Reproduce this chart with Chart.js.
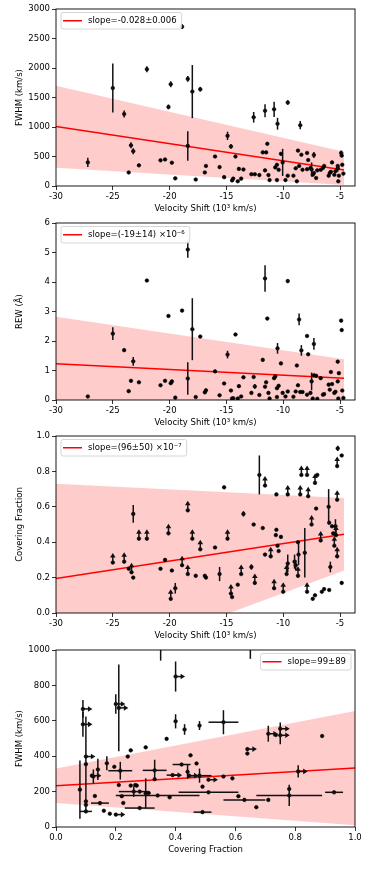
<!DOCTYPE html>
<html>
<head>
<meta charset="utf-8">
<script src="https://cdn.jsdelivr.net/npm/chart.js@4.4.1/dist/chart.umd.min.js"></script>
<style>
  body { margin: 0; background: #fff; }
  .panel { position: absolute; left: 0; width: 374px; height: 214px; }
</style>
</head>
<body>
<div class="panel" style="top:0px"><canvas id="c1" width="374" height="214"></canvas></div>
<div class="panel" style="top:214px"><canvas id="c2" width="374" height="214"></canvas></div>
<div class="panel" style="top:427px"><canvas id="c3" width="374" height="214"></canvas></div>
<div class="panel" style="top:641px"><canvas id="c4" width="374" height="214"></canvas></div>
<script>
// velocity shift (10^3 km/s), shared by the FWHM and REW panels
const velShift = [-27.2,-25.0,-24.0,-23.6,-23.4,-23.2,-22.7,-22.0,-20.8,-20.4,
  -20.1,-19.9,-19.8,-19.5,-18.9,-18.4,-18.4,-18.0,-17.7,-17.3,
  -16.9,-16.8,-16.0,-15.6,-15.2,-14.9,-14.6,-14.5,-14.4,-14.2,
  -14.0,-13.9,-13.7,-13.5,-12.8,-12.6,-12.5,-12.1,-11.8,-11.6,
  -11.5,-11.4,-11.6,-11.3,-11.2,-10.8,-10.7,-10.55,-10.5,-10.4,
  -10.55,-10.2,-10.05,-9.8,-9.6,-9.6,-9.1,-8.9,-8.8,-8.7,
  -8.6,-8.5,-8.4,-8.3,-7.9,-7.9,-7.8,-7.6,-7.5,-7.4,
  -7.3,-7.3,-7.1,-7.0,-6.7,-6.5,-6.4,-6.0,-5.9,-5.8,
  -5.7,-5.5,-5.4,-5.2,-5.2,-5.1,-4.9,-4.85,-4.8,-4.7,
  -5.15];
const fwhm = [400,1660,1220,230,690,590,350,1980,435,450,
  1340,1725,395,130,2700,1815,680,1600,110,1640,
  230,340,500,320,150,850,670,95,125,500,
  80,290,125,280,200,1165,200,185,570,1275,
  570,715,265,185,100,1300,315,360,1055,275,
  100,545,400,100,1415,175,175,300,80,600,
  340,1030,530,275,560,285,440,305,280,190,
  220,525,135,265,275,305,340,175,220,240,
  400,190,250,340,300,175,560,515,360,210,
  80];
const fwhmErr = [80,415,60,0,50,50,0,50,0,0,
  40,50,0,0,40,50,250,450,0,40,
  0,0,0,0,0,70,40,0,0,0,
  0,0,0,0,0,90,0,0,0,110,
  0,0,0,0,0,130,0,0,100,0,
  0,0,230,0,40,0,0,0,0,0,
  0,70,0,0,0,0,0,0,120,0,
  0,50,0,0,0,0,0,0,0,0,
  0,0,0,0,60,0,40,0,0,0,
  0];
const rew = [0.12,2.25,1.69,0.30,0.65,1.31,0.60,4.05,0.50,0.65,
  2.85,0.57,0.63,0.08,3.03,5.10,0.73,2.40,0.10,2.15,
  0.26,0.33,0.97,0.16,0.56,1.54,0.32,0.05,0.06,2.22,
  0.05,0.47,0.12,0.77,0.24,0.78,0.46,0.17,1.36,4.12,
  0.60,2.76,0.45,0.24,0.05,0.74,0.80,0.40,1.75,0.48,
  0.10,1.24,0.24,0.12,4.03,0.29,0.11,0.29,1.17,0.50,
  2.73,0.27,1.68,0.27,2.17,0.18,1.55,0.24,0.63,0.05,
  0.84,1.90,0.82,0.04,0.74,0.18,0.20,0.52,0.35,0.95,
  0.54,0.24,0.28,1.30,0.63,0.91,2.69,2.37,0.32,0.07,
  0.05];
const rewErr = [0,0.22,0,0,0,0.15,0,0,0,0,
  0,0,0,0,0,0.28,0.55,1.05,0,0,
  0,0,0,0,0,0.13,0,0,0,0,
  0,0,0,0,0,0,0.08,0,0,0.45,
  0,0,0,0,0,0,0,0,0.18,0,
  0,0,0,0,0.06,0,0,0,0,0,
  0.2,0,0.18,0,0,0,0,0,0.3,0,
  0,0.2,0,0,0,0,0,0,0,0,
  0,0,0,0,0,0,0,0,0,0,
  0];

// covering fraction vs velocity shift (lower = lower limit, drawn as up arrow)
const cfVel = [-25.0,-24.0,-23.6,-23.35,-23.2,-23.2,-22.7,-22.0,-20.8,-20.4,
  -20.1,-19.9,-19.8,-19.5,-18.9,-18.4,-18.4,-18.0,-17.7,-17.3,
  -16.9,-16.8,-16.0,-15.6,-15.2,-14.9,-14.6,-14.5,-14.0,-13.7,
  -13.5,-12.8,-12.6,-12.5,-12.1,-11.8,-11.6,-11.6,-11.1,-10.8,
  -10.6,-10.6,-10.65,-10.5,-10.4,-10.2,-10.0,-9.6,-9.6,-9.7,
  -9.0,-8.9,-8.7,-8.65,-8.7,-8.5,-8.4,-8.1,-7.9,-7.9,
  -7.8,-7.5,-7.2,-7.1,-7.4,-7.2,-7.0,-6.7,-6.6,-6.4,
  -6.0,-5.95,-5.85,-5.95,-5.7,-5.6,-5.5,-5.4,-5.35,-5.25,
  -5.25,-5.25,-5.2,-4.85,-4.85];
const cfVal = [0.285,0.29,0.25,0.23,0.20,0.56,0.42,0.42,0.25,0.30,
  0.45,0.08,0.24,0.14,0.27,0.58,0.22,0.42,0.21,0.36,
  0.21,0.20,0.37,0.22,0.71,0.42,0.11,0.09,0.16,0.22,
  0.56,0.26,0.50,0.17,0.78,0.48,0.72,0.33,0.32,0.14,
  0.67,0.47,0.44,0.38,0.35,0.43,0.12,0.67,0.28,0.22,
  0.29,0.27,0.40,0.33,0.21,0.67,0.78,0.34,0.78,0.12,
  0.66,0.50,0.735,0.59,0.08,0.10,0.78,0.41,0.12,0.135,
  0.60,0.51,0.26,0.13,0.49,0.45,0.38,0.49,0.44,0.64,
  0.32,0.83,0.93,0.89,0.17];
const cfErr = [0,0,0,0,0,0.05,0,0,0,0,
  0,0,0,0.03,0,0,0,0,0,0,
  0,0,0,0.04,0,0,0,0,0,0,
  0.015,0.015,0,0,0.11,0,0,0,0,0,
  0,0,0,0,0,0,0,0,0.05,0,
  0.04,0.03,0,0.06,0,0,0,0.14,0,0,
  0,0,0,0,0,0,0,0,0,0,
  0.1,0,0.03,0,0,0,0,0.04,0,0,
  0,0,0.015,0,0];
const cfLower = [1,1,0,1,0,0,1,1,0,0,
  1,1,0,0,1,1,1,1,0,1,
  0,0,0,0,0,1,1,0,0,1,
  0,0,0,1,0,0,1,0,1,1,
  0,0,0,0,0,0,1,1,0,1,
  0,0,0,0,1,1,1,0,1,1,
  1,1,1,0,0,0,0,1,0,0,
  0,0,0,0,0,0,1,0,1,1,
  1,1,0,0,0];

// FWHM vs covering fraction (right = lower limit in covering fraction)
const cfX = [0.08,0.09,0.09,0.10,0.10,0.10,0.10,0.10,0.12,0.125,
  0.13,0.14,0.147,0.16,0.17,0.18,0.195,0.20,0.20,0.21,
  0.21,0.215,0.22,0.225,0.24,0.25,0.25,0.26,0.265,0.27,
  0.28,0.28,0.30,0.30,0.31,0.33,0.33,0.34,0.35,0.37,
  0.38,0.39,0.40,0.40,0.42,0.43,0.44,0.445,0.45,0.47,
  0.48,0.48,0.49,0.49,0.51,0.51,0.56,0.56,0.59,0.61,
  0.63,0.64,0.64,0.65,0.67,0.71,0.71,0.735,0.75,0.75,
  0.78,0.78,0.81,0.89,0.93];
const cfXErr = [0,0,0,0,0,0.02,0,0,0,0,
  0,0,0.03,0,0,0,0,0,0,0,
  0,0.04,0,0,0,0,0,0.05,0,0,
  0,0.05,0,0,0,0.04,0,0.14,0,0,
  0,0.02,0,0,0.03,0,0,0,0,0,
  0,0.04,0,0.03,0.1,0,0.05,0,0,0,
  0.07,0,0,0,0,0,0,0,0,0,
  0.11,0,0,0,0.03];
const cfFwhm = [211,667,580,398,355,88,145,125,290,285,
  175,325,135,92,360,75,340,695,70,237,
  673,318,174,136,398,433,234,200,237,234,
  200,107,450,190,192,320,270,178,1300,498,
  168,293,597,850,353,551,312,290,405,359,
  573,290,228,84,196,267,592,285,275,174,
  153,440,415,1200,112,153,527,520,555,518,
  178,215,314,514,196];
const cfFwhmErr = [165,50,70,0,270,0,0,0,0,40,
  0,60,0,0,40,0,0,55,0,0,
  245,50,0,0,0,0,0,30,0,0,
  0,0,0,85,0,60,0,0,360,0,
  0,0,40,85,0,30,40,0,0,0,
  25,40,0,0,0,0,68,0,0,0,
  0,0,0,250,0,0,45,0,35,50,
  60,0,35,0,0];
const cfRight = [0,1,1,1,0,0,0,0,1,0,
  0,0,0,0,0,0,0,1,1,0,
  1,0,0,0,0,0,0,0,0,0,
  0,0,0,0,0,0,0,0,0,0,
  0,1,0,1,0,0,0,1,0,0,
  0,0,0,0,0,1,0,0,0,0,
  0,1,0,0,0,0,1,0,1,1,
  0,0,1,0,0];

// linear fits and their 1-sigma bands, at the ends of the fitted range
const velFitX = [-30, -4.65];
const fwhmFit = [1010, 270], fwhmHi = [1700, 580], fwhmLo = [310, 15];
const rewFit = [1.23, 0.74], rewHi = [2.82, 1.38], rewLo = [-0.36, 0.0];
const cfFit = [0.195, 0.445], cfHi = [0.73, 0.65], cfLo = [-0.364, 0.24];
const cfFitX = [0, 1];
const cfFwhmFit = [233, 333], cfFwhmHi = [330, 655], cfFwhmLo = [135, 10];

Chart.defaults.font.family = '"DejaVu Sans", sans-serif';
Chart.defaults.font.size = 8.5;
Chart.defaults.color = '#000';

const pts = (xs, ys) => xs.map((x, i) => ({ x: x, y: ys[i] }));

// error bars and limit arrows, drawn from each point's value through the scales
const errorBarPlugin = {
  id: 'errorBars',
  afterDatasetsDraw(chart) {
    const { ctx, chartArea: a, scales: { x, y } } = chart;
    ctx.save();
    ctx.beginPath();
    ctx.rect(a.left, a.top, a.right - a.left, a.bottom - a.top);
    ctx.clip();
    ctx.strokeStyle = '#111';
    ctx.fillStyle = '#111';
    ctx.lineWidth = 1.5;
    chart.data.datasets.forEach(ds => {
      if (!ds.errorBars) return;
      ds.data.forEach(d => {
        const px = x.getPixelForValue(d.x), py = y.getPixelForValue(d.y);
        if (d.ye) {
          ctx.beginPath();
          ctx.moveTo(px, y.getPixelForValue(d.y - d.ye));
          ctx.lineTo(px, y.getPixelForValue(d.y + d.ye));
          ctx.stroke();
        }
        if (d.xe) {
          ctx.beginPath();
          ctx.moveTo(x.getPixelForValue(d.x - d.xe), py);
          ctx.lineTo(x.getPixelForValue(d.x + d.xe), py);
          ctx.stroke();
        }
        if (d.lim && ds.limDir === 'up') {
          ctx.beginPath();
          ctx.moveTo(px, py); ctx.lineTo(px, py - 7);
          ctx.stroke();
          ctx.beginPath();
          ctx.moveTo(px - 2.8, py - 5); ctx.lineTo(px, py - 9.5); ctx.lineTo(px + 2.8, py - 5);
          ctx.closePath(); ctx.fill();
        }
        if (d.lim && ds.limDir === 'right') {
          ctx.beginPath();
          ctx.moveTo(px, py); ctx.lineTo(px + 7, py);
          ctx.stroke();
          ctx.beginPath();
          ctx.moveTo(px + 5, py - 2.8); ctx.lineTo(px + 9.5, py); ctx.lineTo(px + 5, py + 2.8);
          ctx.closePath(); ctx.fill();
        }
      });
    });
    ctx.restore();
  }
};

// axes box and the little legend for the fit line
const frameLegendPlugin = {
  id: 'frameLegend',
  afterDraw(chart, args, opts) {
    const { ctx, chartArea: a } = chart;
    ctx.save();
    ctx.strokeStyle = '#000';
    ctx.lineWidth = 0.9;
    ctx.strokeRect(a.left, a.top, a.right - a.left, a.bottom - a.top);

    ctx.font = '8.5px "DejaVu Sans", sans-serif';
    const w = 27 + ctx.measureText(opts.text).width + 5;
    const h = 16.5;
    const bx = opts.align === 'right' ? a.right - 4 - w : a.left + 5;
    const by = a.top + 3.5;
    ctx.fillStyle = 'rgba(255,255,255,0.85)';
    ctx.strokeStyle = '#cccccc';
    ctx.lineWidth = 0.8;
    ctx.beginPath();
    ctx.roundRect(bx, by, w, h, 2);
    ctx.fill();
    ctx.stroke();
    ctx.strokeStyle = 'red';
    ctx.lineWidth = 1.5;
    ctx.beginPath();
    ctx.moveTo(bx + 2, by + h / 2);
    ctx.lineTo(bx + 21, by + h / 2);
    ctx.stroke();
    ctx.fillStyle = '#000';
    ctx.textBaseline = 'middle';
    ctx.fillText(opts.text, bx + 27, by + h / 2 + 0.5);
    ctx.restore();
  }
};

function makePanel(id, cfg) {
  const xAxis = {
    type: 'linear', min: cfg.xMin, max: cfg.xMax,
    afterFit: s => { s.height = 28; },
    ticks: { stepSize: cfg.xStep, includeBounds: false, autoSkip: false, maxRotation: 0, padding: 2,
             callback: cfg.xFmt || (v => v) },
    grid: { drawOnChartArea: false, tickLength: 4, color: '#000', lineWidth: 0.8 },
    border: { display: false },
    title: { display: true, text: cfg.xTitle, padding: { top: 0, bottom: 0 } }
  };
  const yAxis = {
    type: 'linear', min: 0, max: cfg.yMax,
    afterFit: s => { s.width = 56; },
    ticks: { stepSize: cfg.yStep, includeBounds: false, autoSkip: false, padding: 2,
             callback: cfg.yFmt || (v => v) },
    grid: { drawOnChartArea: false, tickLength: 4, color: '#000', lineWidth: 0.8 },
    border: { display: false },
    title: { display: true, text: cfg.yTitle, padding: { top: 15, bottom: 0 } }
  };
  return new Chart(document.getElementById(id), {
    type: 'scatter',
    data: {
      datasets: [
        { data: cfg.points, errorBars: true, limDir: cfg.limDir,
          backgroundColor: '#000', borderColor: '#000', borderWidth: 0.6,
          pointRadius: 1.8, pointHoverRadius: 1.8 },
        { data: pts(cfg.fitX, cfg.fit), showLine: true, borderColor: 'red', borderWidth: 1.5,
          pointRadius: 0, fill: false },
        { data: pts(cfg.fitX, cfg.hi), showLine: true, borderColor: 'transparent', borderWidth: 0,
          pointRadius: 0, fill: '+1', backgroundColor: 'rgba(255,0,0,0.2)' },
        { data: pts(cfg.fitX, cfg.lo), showLine: true, borderColor: 'transparent', borderWidth: 0,
          pointRadius: 0, fill: false }
      ]
    },
    options: {
      responsive: false,
      animation: false,
      layout: { padding: { top: 9, right: 19, left: 0, bottom: 0 } },
      scales: { x: xAxis, y: yAxis },
      plugins: {
        legend: { display: false },
        tooltip: { enabled: false },
        frameLegend: { text: cfg.legend, align: cfg.legendAlign || 'left' }
      }
    },
    plugins: [errorBarPlugin, frameLegendPlugin]
  });
}

const velTitle = 'Velocity Shift (10\u00B3 km/s)';

makePanel('c1', {
  points: velShift.map((v, i) => ({ x: v, y: fwhm[i], ye: fwhmErr[i] })),
  fitX: velFitX, fit: fwhmFit, hi: fwhmHi, lo: fwhmLo,
  xMin: -30, xMax: -3.68, xStep: 5, yMax: 3000, yStep: 500,
  xTitle: velTitle, yTitle: 'FWHM (km/s)',
  legend: 'slope=-0.028\u00B10.006'
});

makePanel('c2', {
  points: velShift.map((v, i) => ({ x: v, y: rew[i], ye: rewErr[i] })),
  fitX: velFitX, fit: rewFit, hi: rewHi, lo: rewLo,
  xMin: -30, xMax: -3.68, xStep: 5, yMax: 6, yStep: 1,
  xTitle: velTitle, yTitle: 'REW (\u00C5)',
  legend: 'slope=(-19\u00B114) \u00D710\u207B\u2076'
});

makePanel('c3', {
  points: cfVel.map((v, i) => ({ x: v, y: cfVal[i], ye: cfErr[i], lim: cfLower[i] })),
  limDir: 'up',
  fitX: velFitX, fit: cfFit, hi: cfHi, lo: cfLo,
  xMin: -30, xMax: -3.68, xStep: 5, yMax: 1, yStep: 0.2,
  yFmt: v => v.toFixed(1),
  xTitle: velTitle, yTitle: 'Covering Fraction',
  legend: 'slope=(96\u00B150) \u00D710\u207B\u2077'
});

makePanel('c4', {
  points: cfX.map((v, i) => ({ x: v, y: cfFwhm[i], xe: cfXErr[i], ye: cfFwhmErr[i], lim: cfRight[i] })),
  limDir: 'right',
  fitX: cfFitX, fit: cfFwhmFit, hi: cfFwhmHi, lo: cfFwhmLo,
  xMin: 0, xMax: 1, xStep: 0.2, yMax: 1000, yStep: 200,
  xFmt: v => v.toFixed(1),
  xTitle: 'Covering Fraction', yTitle: 'FWHM (km/s)',
  legend: 'slope=99\u00B189', legendAlign: 'right'
});
</script>
</body>
</html>
